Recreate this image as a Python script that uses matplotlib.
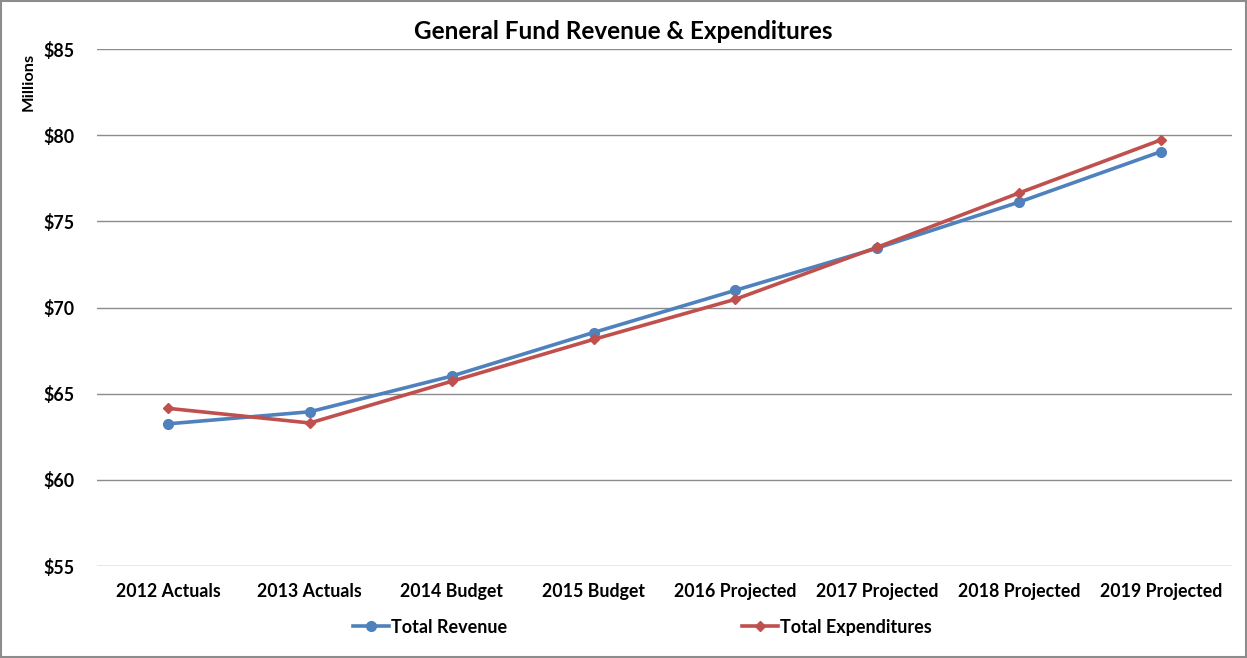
import matplotlib.pyplot as plt
from matplotlib.patches import Rectangle

categories = ["2012 Actuals", "2013 Actuals", "2014 Budget", "2015 Budget",
              "2016 Projected", "2017 Projected", "2018 Projected", "2019 Projected"]
revenue = [63.25, 63.95, 66.02, 68.55, 71.0, 73.45, 76.12, 79.05]
expenditures = [64.15, 63.3, 65.72, 68.15, 70.48, 73.5, 76.65, 79.73]
yticks = [55, 60, 65, 70, 75, 80, 85]

plt.rcParams['font.family'] = ['Lato', 'DejaVu Sans']
plt.rcParams['font.weight'] = 'bold'

fig = plt.figure(figsize=(12.47, 6.58), dpi=100)
ax = fig.add_axes([0.0778, 0.1398, 0.9102, 0.7857])

x = list(range(len(categories)))
ax.plot(x, revenue, color='#4F81BD', lw=2.6, marker='o', ms=7, label='Total Revenue')
ax.plot(x, expenditures, color='#C0504D', lw=2.6, marker='D', ms=5, label='Total Expenditures')

ax.set_xlim(-0.5, 7.5)
ax.set_ylim(55, 85)
ax.set_yticks(yticks)
ax.set_yticklabels(["$%d" % v for v in yticks])
ax.set_xticks(x)
ax.set_xticklabels(categories)
ax.tick_params(length=0, labelsize=12.8, pad=12)
ax.tick_params(axis='y', pad=16)
ax.grid(axis='y', color='#8c8c8c', lw=1)
ax.set_axisbelow(True)
for s in ax.spines.values():
    s.set_visible(False)

fig.text(0.5, 0.952, "General Fund Revenue & Expenditures", ha='center', va='center',
         fontsize=17.5, fontweight='bold')
fig.text(0.023, 0.875, "Millions", rotation=90, ha='center', va='center', fontsize=11.8,
         fontweight='bold')

fig.legend(loc='center', bbox_to_anchor=(0.515, 0.047), ncol=2, frameon=False,
           fontsize=13, columnspacing=13.0, handlelength=2.0, handletextpad=0.1)

fig.add_artist(Rectangle((0.001, 0.001), 0.998, 0.997, transform=fig.transFigure,
                         fill=False, edgecolor='#8c8c8c', lw=1.5))

fig.savefig("out.png", dpi=100)
